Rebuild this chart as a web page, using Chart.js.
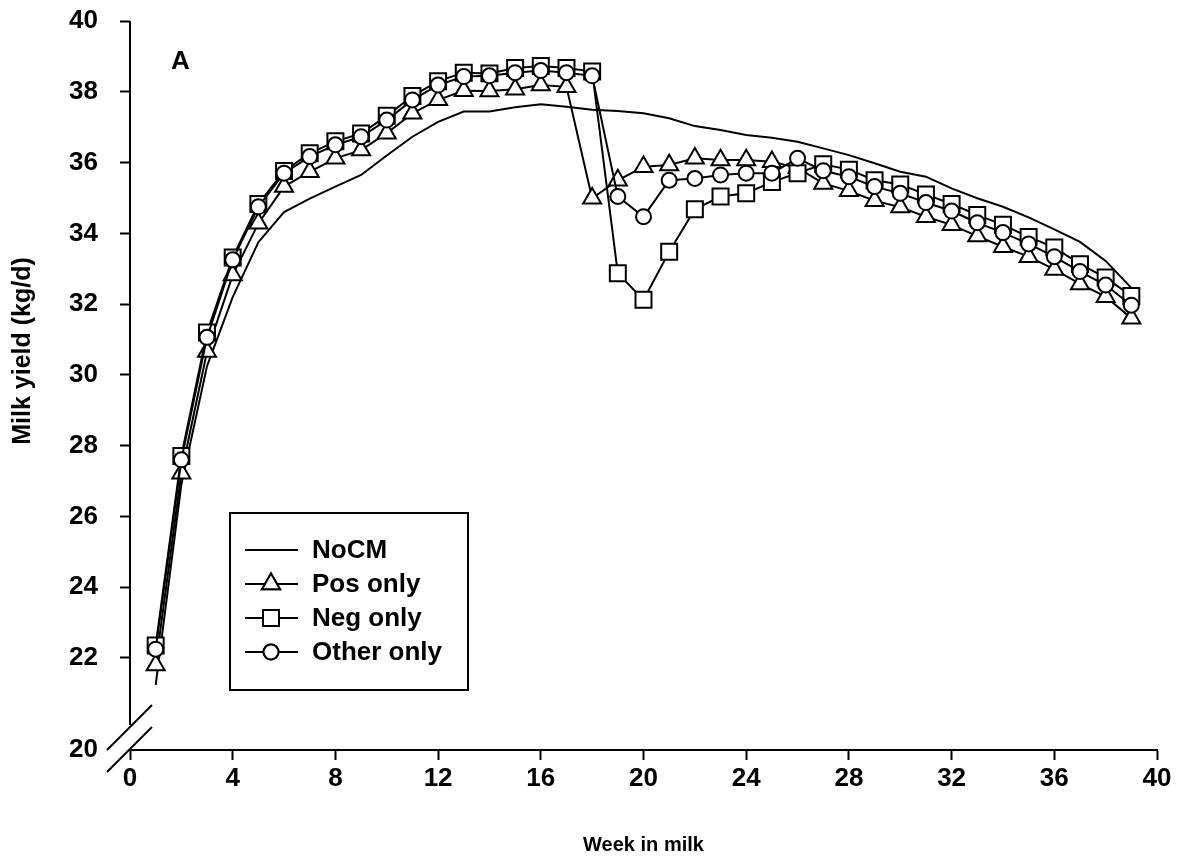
<!DOCTYPE html>
<html>
<head>
<meta charset="utf-8">
<title>Milk yield by week in milk</title>
<script src="https://cdn.jsdelivr.net/npm/chart.js@4.4.1/dist/chart.umd.min.js"></script>
<style>
  body { margin: 0; background: #fff; }
  #wrap { width: 1188px; height: 861px; position: relative; }
</style>
</head>
<body>
<div id="wrap"><canvas id="milkChart"></canvas></div>
<script>
// week in milk
const weeks = [1, 2, 3, 4, 5, 6, 7, 8, 9, 10, 11, 12, 13, 14, 15, 16, 17, 18, 19, 20,
  21, 22, 23, 24, 25, 26, 27, 28, 29, 30, 31, 32, 33, 34, 35, 36, 37, 38, 39];

// milk yield, kg/d
const noCM = [21.24, 26.9, 30.25, 32.2, 33.75, 34.6, 34.98, 35.32, 35.65, 36.2,
  36.73, 37.15, 37.44, 37.44, 37.56, 37.65, 37.58, 37.49, 37.46, 37.39,
  37.25, 37.03, 36.92, 36.78, 36.7, 36.59, 36.4, 36.21, 35.98, 35.74,
  35.6, 35.27, 34.99, 34.75, 34.45, 34.11, 33.76, 33.22, 32.46];
const posOnly = [21.8, 27.22, 30.66, 32.82, 34.28, 35.32, 35.74, 36.12, 36.35, 36.83,
  37.39, 37.77, 38.03, 38.02, 38.07, 38.19, 38.14, 34.99, 35.5, 35.88,
  35.93, 36.12, 36.07, 36.07, 36.02, 35.85, 35.41, 35.2, 34.92, 34.74,
  34.47, 34.24, 33.92, 33.62, 33.34, 32.98, 32.57, 32.21, 31.6];
const negOnly = [22.35, 27.71, 31.2, 33.32, 34.83, 35.76, 36.26, 36.6, 36.82, 37.32,
  37.88, 38.3, 38.54, 38.52, 38.67, 38.73, 38.67, 38.57, 32.87, 32.12,
  33.48, 34.68, 35.04, 35.13, 35.45, 35.7, 35.95, 35.8, 35.5, 35.38,
  35.1, 34.83, 34.52, 34.24, 33.9, 33.6, 33.13, 32.75, 32.23];
const otherOnly = [22.25, 27.6, 31.06, 33.25, 34.75, 35.7, 36.17, 36.5, 36.73, 37.2,
  37.77, 38.19, 38.43, 38.45, 38.54, 38.6, 38.54, 38.45, 35.04, 34.47,
  35.5, 35.55, 35.65, 35.7, 35.7, 36.12, 35.77, 35.6, 35.32, 35.13,
  34.87, 34.63, 34.3, 34.02, 33.7, 33.34, 32.92, 32.54, 31.97];

const yTicks = [20, 22, 24, 26, 28, 30, 32, 34, 36, 38, 40];
const yBreakMin = 19.4;   // axis is broken below 22, bottom tick reads 20
const panelLabel = 'A';

const FONT = '"Liberation Sans", Arial, sans-serif';

function toPoints(values) {
  return weeks.map((w, i) => ({ x: w, y: values[i] }));
}

function markerSet(label, values, style, radius, order) {
  return {
    label: label,
    data: toPoints(values),
    borderColor: '#000',
    borderWidth: 2,
    pointStyle: style,
    pointRadius: radius,
    pointBorderWidth: 2,
    pointBorderColor: '#000',
    pointBackgroundColor: '#fff',
    order: order
  };
}

// draws the broken y axis, panel letter, y title and the boxed legend
const decorations = {
  id: 'decorations',
  afterDraw(chart) {
    const ctx = chart.ctx;
    const area = chart.chartArea;
    const left = area.left, bottom = area.bottom;
    ctx.save();
    ctx.strokeStyle = '#000';
    ctx.lineWidth = 2;

    // y axis line stops at the break
    ctx.beginPath();
    ctx.moveTo(left, area.top);
    ctx.lineTo(left, bottom - 25);
    ctx.stroke();

    // break marks
    ctx.beginPath();
    ctx.moveTo(left - 23, bottom);
    ctx.lineTo(left + 22, bottom - 45);
    ctx.moveTo(left - 23, bottom + 22);
    ctx.lineTo(left + 22, bottom - 23);
    ctx.stroke();

    ctx.fillStyle = '#000';
    ctx.font = 'bold 26px ' + FONT;
    ctx.textAlign = 'left';
    ctx.textBaseline = 'middle';
    ctx.fillText(panelLabel, 171, 62);

    // y title
    ctx.save();
    ctx.translate(23, 351);
    ctx.rotate(-Math.PI / 2);
    ctx.textAlign = 'center';
    ctx.font = 'bold 25px ' + FONT;
    ctx.fillText('Milk yield (kg/d)', 0, 0);
    ctx.restore();

    // legend
    ctx.strokeRect(230, 513, 238, 177);
    const rows = [550, 584, 618, 652];
    chart.data.datasets.forEach((ds, i) => {
      const y = rows[i];
      ctx.beginPath();
      ctx.moveTo(245, y);
      ctx.lineTo(298, y);
      ctx.stroke();
      if (ds.pointRadius > 0) {
        Chart.helpers.drawPoint(ctx, {
          pointStyle: ds.pointStyle,
          radius: ds.pointRadius,
          rotation: 0,
          borderWidth: 2
        }, 271, y);
        ctx.fillStyle = '#fff';
        ctx.fill();
        ctx.stroke();
      }
      ctx.fillStyle = '#000';
      ctx.font = 'bold 26px ' + FONT;
      ctx.textAlign = 'left';
      ctx.fillText(ds.label, 312, y + 1);
    });
    ctx.restore();
  }
};

new Chart(document.getElementById('milkChart'), {
  type: 'line',
  data: {
    datasets: [
      {
        label: 'NoCM',
        data: toPoints(noCM),
        borderColor: '#000',
        borderWidth: 2,
        pointRadius: 0,
        order: 4
      },
      markerSet('Pos only', posOnly, 'triangle', 10.4, 3),
      markerSet('Neg only', negOnly, 'rect', 11.3, 2),
      markerSet('Other only', otherOnly, 'circle', 7.5, 1)
    ]
  },
  options: {
    responsive: true,
    maintainAspectRatio: false,
    animation: false,
    layout: { padding: { top: 21, right: 31, left: 0, bottom: 0 } },
    plugins: {
      legend: { display: false },
      tooltip: { enabled: false }
    },
    scales: {
      x: {
        type: 'linear',
        min: 0,
        max: 40,
        afterFit: (scale) => { scale.height = 111; },
        border: { display: true, color: '#000', width: 2 },
        grid: { drawOnChartArea: false, tickLength: 10, tickColor: '#000', tickWidth: 2 },
        ticks: {
          stepSize: 4,
          autoSkip: false,
          maxRotation: 0,
          padding: 3,
          color: '#000',
          font: { family: FONT, size: 26, weight: 'bold' }
        },
        title: {
          display: true,
          text: 'Week in milk',
          color: '#000',
          font: { family: FONT, size: 20, weight: 'bold' }
        }
      },
      y: {
        type: 'linear',
        min: yBreakMin,
        max: 40,
        afterFit: (scale) => {
          scale.width = 130;
          scale.paddingTop = 0;
          scale.paddingBottom = 0;
        },
        afterBuildTicks: (scale) => {
          scale.ticks = yTicks.map(v => ({ value: v === 20 ? yBreakMin : v }));
        },
        border: { display: false },
        grid: {
          drawOnChartArea: false,
          tickLength: 10,
          tickWidth: 2,
          tickColor: (c) => (c.tick && c.tick.value < 20 ? 'rgba(0,0,0,0)' : '#000')
        },
        ticks: {
          padding: 22,
          color: '#000',
          font: { family: FONT, size: 26, weight: 'bold' },
          callback: (v) => (v < 20 ? '20' : String(v))
        }
      }
    }
  },
  plugins: [decorations]
});
</script>
</body>
</html>
